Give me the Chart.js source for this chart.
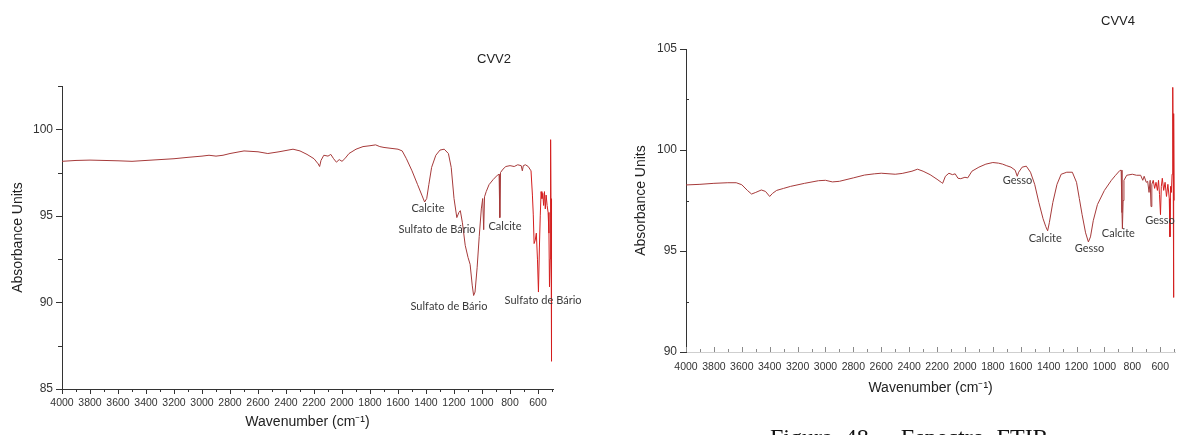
<!DOCTYPE html>
<html lang="pt">
<head>
<meta charset="utf-8">
<title>Espectros FTIR - CVV2 e CVV4</title>
<script src="https://cdn.jsdelivr.net/npm/chart.js@4.4.1/dist/chart.umd.min.js"></script>
<style>
    body { margin: 0; width: 1178px; height: 435px; overflow: hidden; background: #fff; position: relative;
           font-family: 'Liberation Sans', Arial, sans-serif; }
    .painel { position: absolute; top: 0; height: 435px; }
    #painel1 { left: 0; width: 600px; }
    #painel2 { left: 600px; width: 578px; }
    .titulo { position: absolute; font-size: 13px; color: #222; transform: translate(-50%, -50%); }
    #legenda { position: absolute; left: 770px; top: 425px; font-family: 'Liberation Serif', serif;
               font-size: 24px; line-height: 24px; word-spacing: 6px; color: #111; white-space: nowrap; }
</style>
</head>
<body>
<div class="painel" id="painel1"><canvas id="graficoCvv2" width="600" height="435"></canvas></div>
<div class="painel" id="painel2"><canvas id="graficoCvv4" width="578" height="435"></canvas></div>
<div class="titulo" style="left:494px; top:58px;">CVV2</div>
<div class="titulo" style="left:1118px; top:20px;">CVV4</div>
<div id="legenda">Figura 48 - Espectro FTIR</div>

<script>
// Eixo X: número de onda (cm-1), decrescente como no original
const xTicks = [4000, 3800, 3600, 3400, 3200, 3000, 2800, 2600, 2400, 2200, 2000, 1800, 1600, 1400, 1200, 1000, 800, 600];
const yTicksCvv2 = [85, 90, 95, 100];
const yTicksCvv4 = [90, 95, 100, 105];

// CVV2
const cvv2Wn = [4000, 3900, 3800, 3700, 3600, 3500, 3400, 3300, 3200, 3100, 3000, 2950, 2900, 2850, 2800, 2700, 2600, 2530, 2450, 2350,
    2300, 2250, 2200, 2170, 2160, 2150, 2130, 2100, 2080, 2060, 2040, 2020, 2000, 1980, 1950, 1900, 1850, 1800, 1760, 1730,
    1700, 1650, 1600, 1570, 1540, 1500, 1460, 1430, 1410, 1395, 1380, 1360, 1330, 1300, 1270, 1240, 1220, 1200, 1180, 1165,
    1155, 1140, 1120, 1100, 1085, 1070, 1060, 1050, 1035, 1020, 1005, 995, 988, 982, 970, 950, 920, 890, 878, 873,
    868, 850, 830, 800, 770, 745, 720, 712, 705, 690, 670, 650, 640, 634, 628, 620, 612, 604, 597, 590,
    584, 578, 572, 566, 560, 554, 548, 542, 535, 528, 522, 518, 513, 510, 507, 505, 502];
const cvv2Abs = [98.15, 98.2, 98.22, 98.2, 98.18, 98.15, 98.2, 98.25, 98.3, 98.38, 98.45, 98.5, 98.45, 98.5, 98.6, 98.75, 98.7, 98.6, 98.7, 98.85,
    98.75, 98.55, 98.3, 98.0, 97.85, 98.2, 98.5, 98.45, 98.55, 98.3, 98.1, 98.25, 98.15, 98.3, 98.6, 98.85, 99.0, 99.05, 99.1, 99.0,
    98.95, 98.9, 98.85, 98.75, 98.3, 97.6, 96.8, 96.2, 95.8, 96.0, 96.8, 97.8, 98.5, 98.8, 98.85, 98.6, 97.8, 96.0, 94.9, 95.2,
    95.3, 94.6, 93.3, 92.6, 92.2, 91.0, 90.4, 90.6, 92.0, 93.8, 95.4, 96.0, 94.2, 96.1, 96.4, 96.8, 97.1, 97.35, 97.4, 94.9,
    97.5, 97.7, 97.85, 97.9, 97.85, 97.95, 97.9, 97.6, 97.9, 97.95, 97.85, 97.6, 96.2, 95.1, 93.4, 93.6, 94.0, 92.5, 90.6, 93.2,
    95.0, 96.4, 96.0, 96.3, 95.6, 96.4, 95.4, 96.2, 95.6, 95.2, 94.0, 90.9, 92.5, 99.4, 95.0, 86.6, 96.0];

// CVV4
const cvv4Wn = [4000, 3900, 3800, 3700, 3640, 3600, 3560, 3530, 3500, 3460, 3430, 3400, 3380, 3350, 3300, 3250, 3150, 3050, 3000, 2950,
    2900, 2800, 2720, 2650, 2600, 2500, 2450, 2380, 2340, 2300, 2250, 2200, 2170, 2160, 2140, 2115, 2090, 2070, 2050, 2030,
    2000, 1980, 1950, 1900, 1850, 1800, 1760, 1730, 1700, 1670, 1640, 1625, 1615, 1590, 1560, 1530, 1500, 1470, 1440, 1420,
    1407, 1395, 1370, 1340, 1310, 1270, 1230, 1200, 1180, 1160, 1135, 1115, 1100, 1080, 1050, 1000, 950, 920, 890, 880,
    874, 871, 866, 860, 840, 800, 770, 740, 725, 715, 700, 690, 680, 672, 666, 660, 650, 640, 630, 620,
    612, 605, 598, 592, 585, 575, 565, 555, 545, 535, 530, 526, 520, 515, 510, 507, 505, 502, 500];
const cvv4Abs = [98.27, 98.3, 98.35, 98.38, 98.38, 98.28, 98.0, 97.82, 97.9, 98.02, 97.95, 97.7, 97.85, 98.0, 98.1, 98.2, 98.35, 98.48, 98.5, 98.42,
    98.45, 98.62, 98.76, 98.82, 98.85, 98.8, 98.84, 98.95, 99.05, 98.95, 98.78, 98.55, 98.4, 98.35, 98.7, 98.85, 98.78, 98.82, 98.6, 98.58,
    98.65, 98.62, 98.95, 99.15, 99.3, 99.38, 99.35, 99.3, 99.22, 99.15, 99.0, 98.7, 98.9, 99.15, 99.2, 98.9, 98.3, 97.4, 96.6, 96.2,
    96.0, 96.4, 97.4, 98.3, 98.8, 98.9, 98.9, 98.4, 97.6, 96.8, 95.9, 95.45, 95.7, 96.5, 97.3, 98.0, 98.5, 98.75, 98.98, 99.0,
    96.9, 96.1, 97.5, 98.5, 98.75, 98.8, 98.75, 98.75, 98.5, 98.7, 98.4, 98.45, 97.9, 98.5, 97.2, 98.3, 98.5, 98.1, 98.4, 98.0,
    98.5, 97.8, 96.8, 98.2, 98.6, 98.0, 98.4, 97.7, 98.3, 97.6, 95.7, 98.2, 97.9, 98.8, 103.1, 99.5, 92.7, 101.8, 97.5];

// Rótulos das bandas (texto, número de onda, valor)
const cvv2Rotulos = ['Calcite', 'Sulfato de Bário', 'Calcite', 'Sulfato de Bário', 'Sulfato de Bário'];
const cvv2RotWn = [1386, 1321, 836, 1236, 564];
const cvv2RotAbs = [95.44, 94.23, 94.4, 89.79, 90.13];

const cvv4Rotulos = ['Gesso', 'Calcite', 'Gesso', 'Calcite', 'Gesso'];
const cvv4RotWn = [1623, 1424, 1107, 900, 602];
const cvv4RotAbs = [98.48, 95.63, 95.13, 95.88, 96.49];

// --- 2. PLUGINS AUXILIARES ---
// Marcas de escala (maiores e menores) desenhadas a partir das escalas do Chart.js
const marcasEscala = {
    id: 'marcasEscala',
    afterDraw(chart, args, o) {
        const { ctx, chartArea } = chart;
        const sx = chart.scales.x, sy = chart.scales.y;
        ctx.save();
        ctx.lineWidth = 1;

        // eixo X: a cada 100, maior a cada 200
        ctx.strokeStyle = o.corX;
        for (let v = 4000; v >= sx.min; v -= 100) {
            const px = Math.round(sx.getPixelForValue(v)) + 0.5;
            const len = (v % 200 === 0) ? o.lenX : o.lenXMenor;
            const dir = o.xDentro ? -1 : 1;
            ctx.beginPath();
            ctx.moveTo(px, chartArea.bottom);
            ctx.lineTo(px, chartArea.bottom + dir * len);
            ctx.stroke();
        }

        // eixo Y: a cada 2.5, maior a cada 5
        ctx.strokeStyle = o.corY;
        for (let v = sy.min; v <= sy.max + 0.01; v += 2.5) {
            const py = Math.round(sy.getPixelForValue(v)) + 0.5;
            const maior = Math.abs(v % 5) < 0.01;
            const len = maior ? o.lenY : o.lenYMenor;
            const dir = (!maior && o.yMenorDentro) ? 1 : -1;
            ctx.beginPath();
            ctx.moveTo(chartArea.left, py);
            ctx.lineTo(chartArea.left + dir * len, py);
            ctx.stroke();
        }
        ctx.restore();
    }
};

// Anotações de bandas posicionadas em coordenadas de dados
const rotulosBandas = {
    id: 'rotulosBandas',
    afterDatasetsDraw(chart, args, o) {
        const { ctx } = chart;
        const sx = chart.scales.x, sy = chart.scales.y;
        ctx.save();
        ctx.font = '11px Lato, "Open Sans", sans-serif';
        ctx.fillStyle = '#3a3a3a';
        ctx.textAlign = 'center';
        ctx.textBaseline = 'middle';
        o.textos.forEach((t, i) => {
            ctx.fillText(t, sx.getPixelForValue(o.wn[i]), sy.getPixelForValue(o.abs[i]));
        });
        ctx.restore();
    }
};

// --- 3. CONSTRUÇÃO DOS GRÁFICOS ---
function criarEspectro(canvasId, wn, abs, cfg) {
    const pontos = wn.map((w, i) => ({ x: w, y: abs[i] }));
    return new Chart(document.getElementById(canvasId), {
        type: 'line',
        data: {
            datasets: [{
                data: pontos,
                borderColor: '#a63a3a',
                borderWidth: 1,
                pointRadius: 0,
                tension: 0,
                // região final mais avermelhada, como no original
                segment: { borderColor: c => c.p0.parsed.x < 660 ? '#d41e1e' : undefined }
            }]
        },
        plugins: [marcasEscala, rotulosBandas],
        options: {
            responsive: false,
            animation: false,
            layout: { padding: cfg.padding },
            plugins: {
                legend: { display: false },
                tooltip: { enabled: false },
                marcasEscala: cfg.marcas,
                rotulosBandas: cfg.rotulos
            },
            scales: {
                x: {
                    type: 'linear',
                    reverse: true,
                    min: 493,
                    max: 4000,
                    afterBuildTicks: s => { s.ticks = xTicks.map(v => ({ value: v })); },
                    afterFit: s => { s.height = cfg.alturaX; },
                    grid: { display: false, drawTicks: true, tickLength: cfg.marcas.xDentro ? 0 : cfg.marcas.lenX },
                    border: { display: true, color: cfg.corBordaX, width: 1 },
                    ticks: { autoSkip: false, maxRotation: 0, padding: cfg.padTickX, color: '#333',
                             callback: v => String(v),
                             font: { family: 'Liberation Sans', size: 10.5 } },
                    title: { display: true, text: 'Wavenumber (cm⁻¹)', color: '#222',
                             font: { family: 'Liberation Sans', size: 14 }, padding: { top: 0, bottom: 4 } }
                },
                y: {
                    min: cfg.yMin,
                    max: cfg.yMax,
                    afterBuildTicks: s => { s.ticks = cfg.yTicks.map(v => ({ value: v })); },
                    afterFit: s => { s.width = cfg.larguraY; },
                    grid: { display: false, drawTicks: true, tickLength: cfg.marcas.lenY },
                    border: { display: true, color: '#333', width: 1 },
                    ticks: { padding: 3, color: '#333', callback: v => String(v),
                             font: { family: 'Liberation Sans', size: 12 } },
                    title: { display: true, text: 'Absorbance Units', color: '#222',
                             font: { family: 'Liberation Sans', size: 14 }, padding: { top: cfg.padTituloY, bottom: 0 } }
                }
            }
        }
    });
}

criarEspectro('graficoCvv2', cvv2Wn, cvv2Abs, {
    padding: { top: 86, right: 47, left: 0, bottom: 0 },
    alturaX: 46, larguraY: 62, padTickX: 3, padTituloY: 10,
    yMin: 85, yMax: 102.5, yTicks: yTicksCvv2, corBordaX: '#333',
    marcas: { corX: '#333', corY: '#333', xDentro: false, lenX: 5, lenXMenor: 3, lenY: 6, lenYMenor: 4, yMenorDentro: false },
    rotulos: { textos: cvv2Rotulos, wn: cvv2RotWn, abs: cvv2RotAbs }
});

criarEspectro('graficoCvv4', cvv4Wn, cvv4Abs, {
    padding: { top: 49, right: 1, left: 0, bottom: 34 },
    alturaX: 49, larguraY: 86, padTickX: 9, padTituloY: 33,
    yMin: 90, yMax: 105, yTicks: yTicksCvv4, corBordaX: '#cfcfcf',
    marcas: { corX: '#8a8a8a', corY: '#333', xDentro: true, lenX: 5, lenXMenor: 3, lenY: 6, lenYMenor: 3, yMenorDentro: true },
    rotulos: { textos: cvv4Rotulos, wn: cvv4RotWn, abs: cvv4RotAbs }
});
</script>
</body>
</html>
